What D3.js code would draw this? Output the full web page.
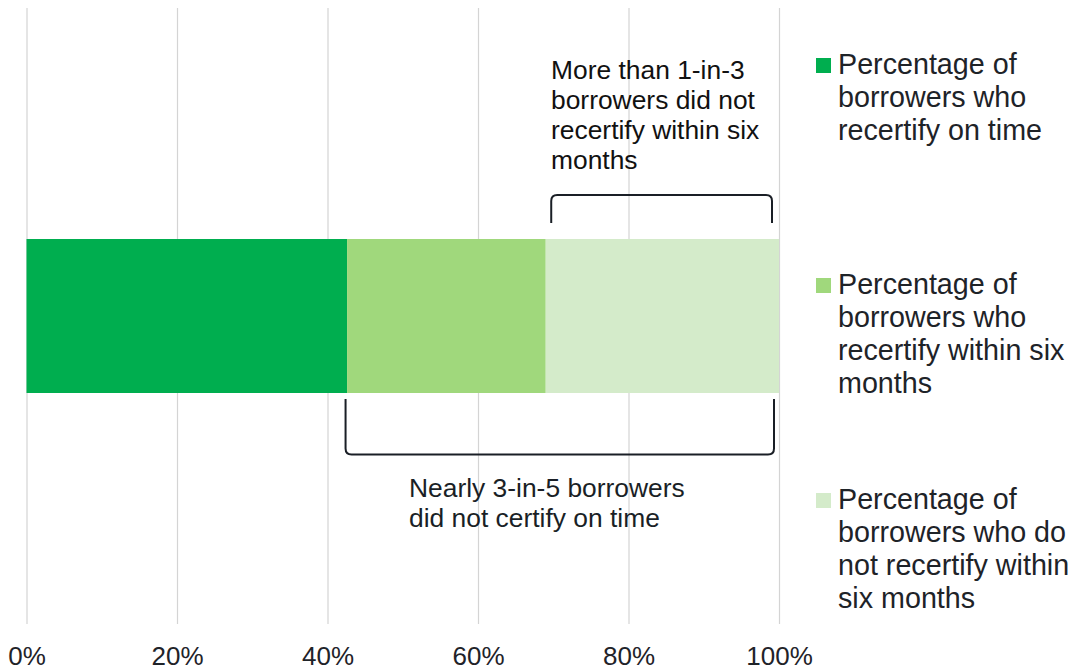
<!DOCTYPE html>
<html>
<head>
<meta charset="utf-8">
<script src="https://cdn.jsdelivr.net/npm/d3@7"></script>
<style>
  body { margin: 0; background: #fff; }
  text { font-family: "Liberation Sans", Arial, sans-serif; }
</style>
</head>
<body>
<div id="chart"></div>
<script>
// data
var categories = ["Borrowers"];
var seriesNames = [
  "Percentage of borrowers who recertify on time",
  "Percentage of borrowers who recertify within six months",
  "Percentage of borrowers who do not recertify within six months"
];
var seriesValues = [0.426, 0.264, 0.310];
var seriesColors = ["#00ae4f", "#a0d87c", "#d4ebca"];
var tickValues = [0, 0.2, 0.4, 0.6, 0.8, 1.0];
var legendLines = [
  ["Percentage of", "borrowers who", "recertify on time"],
  ["Percentage of", "borrowers who", "recertify within six", "months"],
  ["Percentage of", "borrowers who do", "not recertify within", "six months"]
];
var topNote = ["More than 1-in-3", "borrowers did not", "recertify within six", "months"];
var bottomNote = ["Nearly 3-in-5 borrowers", "did not certify on time"];

var svgWidth = 1074;
var svgHeight = 670;

var svg = d3.select("#chart")
  .append("svg")
  .attr("width", svgWidth)
  .attr("height", svgHeight);

var plotTop = 8, plotBottom = 624;

var x = d3.scaleLinear()
  .domain([0, 1])
  .range([26.5, 779]);

var y = d3.scaleBand()
  .domain(categories)
  .range([plotTop, plotBottom])
  .padding(0.6);

// gridlines + tick labels
var xAxis = svg.append("g")
  .attr("transform", `translate(0,${plotBottom})`)
  .call(d3.axisBottom(x)
    .tickValues(tickValues)
    .tickSize(-(plotBottom - plotTop))
    .tickFormat(d3.format(".0%")));

xAxis.select(".domain").remove();
xAxis.selectAll(".tick line")
  .attr("stroke", "#d4d4d4")
  .attr("stroke-width", 1.2);
xAxis.selectAll(".tick text")
  .attr("y", 41)
  .attr("dy", 0)
  .attr("fill", "#1f2329")
  .style("font-size", "26px");

// stacked segments
var stacked = [];
var acc = 0;
seriesValues.forEach(function(v, i) {
  stacked.push({ start: acc, end: acc + v, color: seriesColors[i], name: seriesNames[i] });
  acc += v;
});

svg.selectAll("rect.seg")
  .data(stacked)
  .enter()
  .append("rect")
  .attr("class", "seg")
  .attr("x", d => x(d.start))
  .attr("y", y(categories[0]))
  .attr("width", d => x(d.end) - x(d.start))
  .attr("height", y.bandwidth())
  .attr("fill", d => d.color);

// brackets
function bracket(x0, x1, yEnd, yLine, r) {
  var s = yLine < yEnd ? 1 : -1;
  return `M${x0},${yEnd} L${x0},${yLine + s * r} Q${x0},${yLine} ${x0 + r},${yLine}` +
    ` L${x1 - r},${yLine} Q${x1},${yLine} ${x1},${yLine + s * r} L${x1},${yEnd}`;
}

var barTop = y(categories[0]);
var barBottom = barTop + y.bandwidth();

svg.append("path")
  .attr("d", bracket(x(stacked[2].start) + 5.5, x(1) - 7, barTop - 16, 195, 6))
  .attr("fill", "none")
  .attr("stroke", "#1a1f26")
  .attr("stroke-width", 2);

svg.append("path")
  .attr("d", bracket(x(stacked[1].start) - 1.5, x(1) - 5, barBottom + 6, 454.5, 6))
  .attr("fill", "none")
  .attr("stroke", "#1a1f26")
  .attr("stroke-width", 2);

// annotations
var topText = svg.append("text")
  .attr("x", 551)
  .attr("y", 78.5)
  .attr("fill", "#111")
  .style("font-size", "26.4px");
topText.selectAll("tspan")
  .data(topNote)
  .enter()
  .append("tspan")
  .attr("x", 551)
  .attr("dy", (d, i) => i === 0 ? 0 : 30.3)
  .text(d => d);

var botText = svg.append("text")
  .attr("x", 409)
  .attr("y", 497)
  .attr("fill", "#1a1f26")
  .style("font-size", "26.4px");
botText.selectAll("tspan")
  .data(bottomNote)
  .enter()
  .append("tspan")
  .attr("x", 409)
  .attr("dy", (d, i) => i === 0 ? 0 : 30.3)
  .text(d => d);

// legend
var legendTops = [58, 278, 493];
var legend = svg.selectAll("g.legend")
  .data(legendLines)
  .enter()
  .append("g")
  .attr("class", "legend")
  .attr("transform", (d, i) => `translate(816,${legendTops[i]})`);

legend.append("rect")
  .attr("width", 15)
  .attr("height", 15)
  .attr("fill", (d, i) => seriesColors[i]);

legend.append("text")
  .attr("x", 22)
  .attr("y", 16)
  .attr("fill", "#1e2328")
  .style("font-size", "28.7px")
  .selectAll("tspan")
  .data(d => d)
  .enter()
  .append("tspan")
  .attr("x", 22)
  .attr("dy", (d, i) => i === 0 ? 0 : 33)
  .text(d => d);
</script>
</body>
</html>
